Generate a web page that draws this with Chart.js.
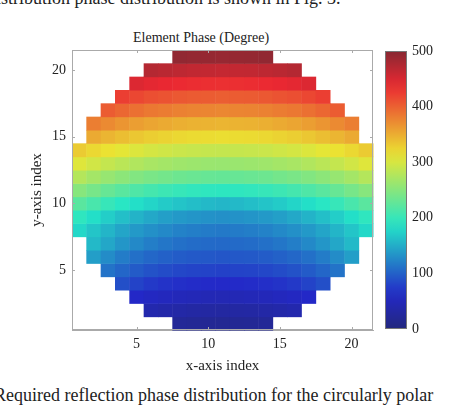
<!DOCTYPE html>
<html>
<head>
<meta charset="utf-8">
<script src="https://cdn.jsdelivr.net/npm/chart.js@4.4.0/dist/chart.umd.min.js"></script>
<style>
  body { margin: 0; background: #fff; }
  #wrap { position: relative; width: 474px; height: 405px; overflow: hidden; font-family: 'Liberation Serif', 'DejaVu Serif', serif; }
  #main { position: absolute; left: 0; top: 0; }
  #bar { position: absolute; left: 385px; top: 0; }
  .txt { position: absolute; white-space: nowrap; color: #222; font-family: 'Liberation Serif', 'DejaVu Serif', serif; }
</style>
</head>
<body>
<div id="wrap">
  <div class="txt" style="left:-4px; top:-12px; font-size:18px;">istribution phase distribution is shown in Fig. 3.</div>
  <div class="txt" style="left:133px; top:30px; font-size:14px;">Element Phase (Degree)</div>
  <div class="txt" style="left:-6px; top:385px; font-size:18px;">Required reflection phase distribution for the circularly polar</div>
  <canvas id="main" width="474" height="405"></canvas>
  <canvas id="bar" width="80" height="405"></canvas>
</div>
<script>
// first x index of each row, rows listed from y = 1 (bottom) to y = 21 (top)
var rowStart = [8, 6, 5, 4, 3, 2, 2, 1, 1, 1, 1, 1, 1, 1, 2, 2, 3, 4, 5, 6, 8];

// phase values (degrees) per row, left to right
var phaseRows = [
    [22,20,19,18,19,20,22],
    [40,37,34,32,31,30,31,32,34,37,40],
    [62,57,53,50,48,47,46,47,48,50,53,57,62],
    [88,80,74,70,67,65,64,63,64,65,67,70,74,80,88],
    [112,103,96,90,86,83,81,80,79,80,81,83,86,90,96,103,112],
    [140,128,118,110,104,100,97,95,94,93,94,95,97,100,104,110,118,128,140],
    [158,146,135,126,119,114,110,107,106,105,106,107,110,114,119,126,135,146,158],
    [178,166,155,145,137,131,126,122,119,117,116,117,119,122,126,131,137,145,155,166,178],
    [195,183,172,162,154,147,141,137,134,132,131,132,134,137,141,147,154,162,172,183,195],
    [222,211,200,191,183,176,170,165,161,158,156,158,161,165,170,176,183,191,200,211,222],
    [250,240,230,222,215,209,204,200,197,195,194,195,197,200,204,209,215,222,230,240,250],
    [278,268,260,253,247,242,238,234,232,230,229,230,232,234,238,242,247,253,260,268,278],
    [305,296,288,282,276,271,268,265,263,262,261,262,263,265,268,271,276,282,288,296,305],
    [330,322,315,309,303,298,295,292,290,289,288,289,290,292,295,298,303,309,315,322,330],
    [352,345,339,333,328,325,322,320,319,318,319,320,322,325,328,333,339,345,352],
    [381,373,366,360,355,352,349,347,346,345,346,347,349,352,355,360,366,373,381],
    [403,396,390,385,382,379,377,376,375,376,377,379,382,385,390,396,403],
    [423,417,412,409,406,404,403,402,403,404,406,409,412,417,423],
    [447,442,439,436,434,433,432,433,434,436,439,442,447],
    [472,469,466,464,463,462,463,464,466,469,472],
    [494,492,491,490,491,492,494]
];

var axisTicks = [5, 10, 15, 20];
var barTicks = [0, 100, 200, 300, 400, 500];
var phaseMin = 0, phaseMax = 500;

// muted jet colour map
function jet(v) {
    var t = Math.max(0, Math.min(1, (v - phaseMin) / (phaseMax - phaseMin)));
    function c(x) { return Math.max(0, Math.min(1, x)); }
    var r = c(1.5 - Math.abs(4 * t - 3));
    var g = c(1.5 - Math.abs(4 * t - 2));
    var b = c(1.5 - Math.abs(4 * t - 1));
    var R = Math.round(r * 200 + 35), G = Math.round(g * 190 + 40), B = Math.round(b * 150 + 50);
    return 'rgb(' + R + ',' + G + ',' + B + ')';
}

var points = [];
for (var row = 0; row < phaseRows.length; row++) {
    for (var i = 0; i < phaseRows[row].length; i++) {
        points.push({ x: rowStart[row] + i, y: row + 1, v: phaseRows[row][i] });
    }
}

var serif = "'Liberation Serif', 'DejaVu Serif', serif";
var tickFont = { family: serif, size: 14 };

// draw each cell as a rectangle spanning one index on both scales, then the box
var cellPlugin = {
    id: 'cells',
    beforeDatasetsDraw: function (chart) {
        var ctx = chart.ctx, xs = chart.scales.x, ys = chart.scales.y;
        chart.data.datasets[0].data.forEach(function (p) {
            var x0 = xs.getPixelForValue(p.x - 0.5), x1 = xs.getPixelForValue(p.x + 0.5);
            var y0 = ys.getPixelForValue(p.y + 0.5), y1 = ys.getPixelForValue(p.y - 0.5);
            ctx.fillStyle = jet(p.v);
            ctx.fillRect(x0, y0, x1 - x0 + 0.5, y1 - y0 + 0.5);
        });
        var a = chart.chartArea;
        ctx.strokeStyle = '#aaa';
        ctx.lineWidth = 1;
        ctx.strokeRect(a.left + 0.5, a.top + 0.5, a.right - a.left - 1, a.bottom - a.top - 1);
        ctx.beginPath();
        axisTicks.forEach(function (v) {
            var px = Math.round(xs.getPixelForValue(v)) + 0.5, py = Math.round(ys.getPixelForValue(v)) + 0.5;
            ctx.moveTo(px, a.bottom); ctx.lineTo(px, a.bottom - 3);
            ctx.moveTo(px, a.top); ctx.lineTo(px, a.top + 3);
            ctx.moveTo(a.left, py); ctx.lineTo(a.left + 3, py);
            ctx.moveTo(a.right, py); ctx.lineTo(a.right - 3, py);
        });
        ctx.stroke();
    }
};

new Chart(document.getElementById('main'), {
    type: 'scatter',
    data: { datasets: [{ data: points, pointRadius: 0 }] },
    plugins: [cellPlugin],
    options: {
        responsive: false, animation: false,
        layout: { padding: { top: 50, right: 101, left: 28, bottom: 30 } },
        plugins: { legend: { display: false }, tooltip: { enabled: false } },
        scales: {
            x: {
                min: 0.5, max: 21.5,
                afterFit: function (s) { s.height = 45; },
                afterBuildTicks: function (s) { s.ticks = axisTicks.map(function (v) { return { value: v }; }); },
                grid: { display: false, drawTicks: false },
                border: { color: '#aaa' },
                ticks: { color: '#222', font: tickFont, padding: 6 },
                title: { display: true, text: 'x-axis index', color: '#222', font: { family: serif, size: 15 }, padding: { top: 0, bottom: 0 } }
            },
            y: {
                min: 0.5, max: 21.5,
                afterFit: function (s) { s.width = 44; },
                afterBuildTicks: function (s) { s.ticks = axisTicks.map(function (v) { return { value: v }; }); },
                grid: { display: false, drawTicks: false },
                border: { color: '#aaa' },
                ticks: { color: '#222', font: tickFont, padding: 6 },
                title: { display: true, text: 'y-axis index', color: '#222', font: { family: serif, size: 15 }, padding: { top: 0, bottom: 0 } }
            }
        }
    }
});

// colour bar: gradient filling the chart area, ticks on the right
var gradientPlugin = {
    id: 'gradient',
    beforeDatasetsDraw: function (chart) {
        var a = chart.chartArea, ctx = chart.ctx;
        var g = ctx.createLinearGradient(0, a.bottom, 0, a.top);
        for (var k = 0; k <= 20; k++) g.addColorStop(k / 20, jet(phaseMin + (phaseMax - phaseMin) * k / 20));
        ctx.fillStyle = g;
        ctx.fillRect(a.left, a.top, a.right - a.left, a.bottom - a.top);
        ctx.strokeStyle = '#777';
        ctx.strokeRect(a.left + 0.5, a.top + 0.5, a.right - a.left - 1, a.bottom - a.top - 1);
    }
};

new Chart(document.getElementById('bar'), {
    type: 'scatter',
    data: { datasets: [{ data: [], pointRadius: 0 }] },
    plugins: [gradientPlugin],
    options: {
        responsive: false, animation: false,
        layout: { padding: { top: 51, bottom: 76, left: 0, right: 0 } },
        plugins: { legend: { display: false }, tooltip: { enabled: false } },
        scales: {
            x: { display: false, min: 0, max: 1 },
            y: {
                position: 'right', min: phaseMin, max: phaseMax,
                afterFit: function (s) { s.width = 58; },
                afterBuildTicks: function (s) { s.ticks = barTicks.map(function (v) { return { value: v }; }); },
                grid: { display: false, drawTicks: true, tickLength: 3, color: '#333' },
                border: { display: false },
                ticks: { color: '#222', font: tickFont, padding: 2 }
            }
        }
    }
});
</script>
</body>
</html>
